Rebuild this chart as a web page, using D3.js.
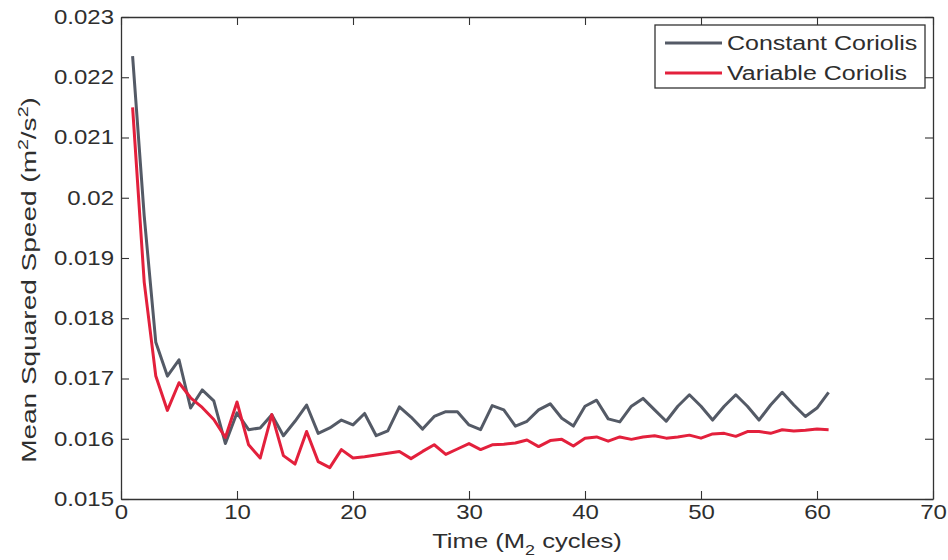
<!DOCTYPE html>
<html>
<head>
<meta charset="utf-8">
<script src="https://cdn.jsdelivr.net/npm/d3@7"></script>
<style>
  html, body { margin: 0; padding: 0; background: #ffffff; }
  svg { display: block; }
  text { font-family: "Liberation Sans", Arial, Helvetica, sans-serif; fill: #2e2e2e; }
</style>
</head>
<body>
<svg id="chart" width="948" height="560"></svg>
<script>
// Time in M2 tidal cycles
const cycles = d3.range(1, 62);

// Mean squared speed (m^2/s^2) per cycle
const constantCoriolis = [
  0.02235, 0.0197, 0.0176, 0.01704, 0.01731, 0.01651, 0.01681, 0.01663, 0.01592, 0.01643,
  0.01615, 0.01618, 0.0164, 0.01605, 0.01629, 0.01656, 0.01609, 0.01618, 0.01631, 0.01623,
  0.01642, 0.01605, 0.01613, 0.01653, 0.01636, 0.01616, 0.01637, 0.01645, 0.01645, 0.01623,
  0.01615, 0.01655, 0.01648, 0.01621, 0.01629, 0.01648, 0.01658, 0.01634, 0.01621, 0.01654,
  0.01664, 0.01633, 0.01628, 0.01654, 0.01667, 0.01648, 0.01629, 0.01654, 0.01673, 0.01654,
  0.01631, 0.01654, 0.01673, 0.01654, 0.01631, 0.01656, 0.01677, 0.01656, 0.01637, 0.01651,
  0.01677
];

const variableCoriolis = [
  0.0215, 0.0186, 0.01704, 0.01647, 0.01693, 0.01668, 0.01652, 0.01632, 0.01602, 0.01661,
  0.0159, 0.01568, 0.0164, 0.01572, 0.01558, 0.01612, 0.01562, 0.01552, 0.01582, 0.01568,
  0.0157, 0.01573, 0.01576, 0.01579, 0.01567, 0.01579, 0.0159, 0.01574, 0.01583, 0.01592,
  0.01582, 0.0159, 0.01591, 0.01593, 0.01598, 0.01587, 0.01597, 0.01599, 0.01588, 0.01601,
  0.01603, 0.01596, 0.01603, 0.01599, 0.01603, 0.01605, 0.01601, 0.01603, 0.01606, 0.01601,
  0.01608, 0.01609, 0.01604, 0.01612, 0.01612, 0.01609, 0.01615, 0.01613, 0.01614, 0.01616,
  0.01615
];

const xTicks = [0, 10, 20, 30, 40, 50, 60, 70];
const yTicks = [0.015, 0.016, 0.017, 0.018, 0.019, 0.02, 0.021, 0.022, 0.023];
const seriesNames = ["Constant Coriolis", "Variable Coriolis"];
const seriesColors = ["#545a66", "#e3203c"];

const svg = d3.select("#chart");
const margin = { left: 121, right: 15, top: 17, bottom: 61 };
const W = 948, H = 560;
const x = d3.scaleLinear().domain([0, 70]).range([margin.left, W - margin.right]);
const y = d3.scaleLinear().domain([0.015, 0.023]).range([H - margin.bottom, margin.top]);

const axisColor = "#333333";
const fontSize = 20;
const stretch = 1.2;   // wide Helvetica-like digits

// series lines
const series = [constantCoriolis, variableCoriolis];
const line = d3.line().x((d, i) => x(cycles[i])).y(d => y(d));
series.forEach((vals, k) => {
  svg.append("path")
    .datum(vals)
    .attr("fill", "none")
    .attr("stroke", seriesColors[k])
    .attr("stroke-width", 3)
    .attr("stroke-linejoin", "round")
    .attr("d", line);
});

// box axes with inward ticks
const tickLen = 8;
function styleAxis(g) {
  g.select(".domain").attr("stroke", axisColor).attr("stroke-width", 1.3);
  g.selectAll(".tick line").attr("stroke", axisColor).attr("stroke-width", 1.1);
}

const fmtY = d => (d === 0.02 ? "0.02" : d3.format(".3f")(d));

const gBottom = svg.append("g")
  .attr("transform", `translate(0,${y.range()[0]})`)
  .call(d3.axisBottom(x).tickValues(xTicks).tickSizeInner(-tickLen).tickSizeOuter(0).tickPadding(8));
styleAxis(gBottom);
gBottom.selectAll(".tick text")
  .attr("font-size", fontSize)
  .attr("font-family", "Liberation Sans, Arial, sans-serif")
  .attr("fill", "#2e2e2e")
  .attr("y", 6)
  .attr("dy", "0.71em")
  .attr("transform", `scale(${stretch},1)`);

const gTop = svg.append("g")
  .attr("transform", `translate(0,${y.range()[1]})`)
  .call(d3.axisTop(x).tickValues(xTicks).tickSizeInner(-tickLen).tickSizeOuter(0).tickFormat(""));
styleAxis(gTop);

const gLeft = svg.append("g")
  .attr("transform", `translate(${x.range()[0]},0)`)
  .call(d3.axisLeft(y).tickValues(yTicks).tickFormat(fmtY).tickSizeInner(-tickLen).tickSizeOuter(0).tickPadding(7));
styleAxis(gLeft);
gLeft.selectAll(".tick text")
  .attr("font-size", fontSize)
  .attr("font-family", "Liberation Sans, Arial, sans-serif")
  .attr("fill", "#2e2e2e")
  .attr("x", -7 / stretch)
  .attr("transform", `scale(${stretch},1)`);

const gRight = svg.append("g")
  .attr("transform", `translate(${x.range()[1]},0)`)
  .call(d3.axisRight(y).tickValues(yTicks).tickSizeInner(-tickLen).tickSizeOuter(0).tickFormat(""));
styleAxis(gRight);

// axis titles
const xTitle = svg.append("text")
  .attr("transform", `translate(${(x.range()[0] + x.range()[1]) / 2},548) scale(1.28,1)`)
  .attr("text-anchor", "middle")
  .attr("font-size", fontSize);
xTitle.append("tspan").text("Time (M");
xTitle.append("tspan").attr("font-size", 14).attr("dy", 7).text("2");
xTitle.append("tspan").attr("dy", -7).text(" cycles)");

const yTitle = svg.append("text")
  .attr("transform", `translate(36,280) rotate(-90) scale(1.4,1)`)
  .attr("text-anchor", "middle")
  .attr("font-size", fontSize);
yTitle.append("tspan").text("Mean Squared Speed (m");
yTitle.append("tspan").attr("font-size", 14).attr("dy", -8).text("2");
yTitle.append("tspan").attr("dy", 8).text("/s");
yTitle.append("tspan").attr("font-size", 14).attr("dy", -8).text("2");
yTitle.append("tspan").attr("dy", 8).text(")");

// legend
const legend = svg.append("g");
legend.append("rect")
  .attr("x", 655).attr("y", 25).attr("width", 270).attr("height", 63)
  .attr("fill", "#ffffff").attr("stroke", axisColor).attr("stroke-width", 1.3);
seriesNames.forEach((name, k) => {
  const ly = 43 + k * 30;
  legend.append("line")
    .attr("x1", 665).attr("x2", 722).attr("y1", ly).attr("y2", ly)
    .attr("stroke", seriesColors[k]).attr("stroke-width", 2.8);
  legend.append("text")
    .attr("transform", `translate(727,${ly}) scale(1.25,1)`)
    .attr("dy", "0.35em")
    .attr("font-size", fontSize)
    .text(name);
});
</script>
</body>
</html>
